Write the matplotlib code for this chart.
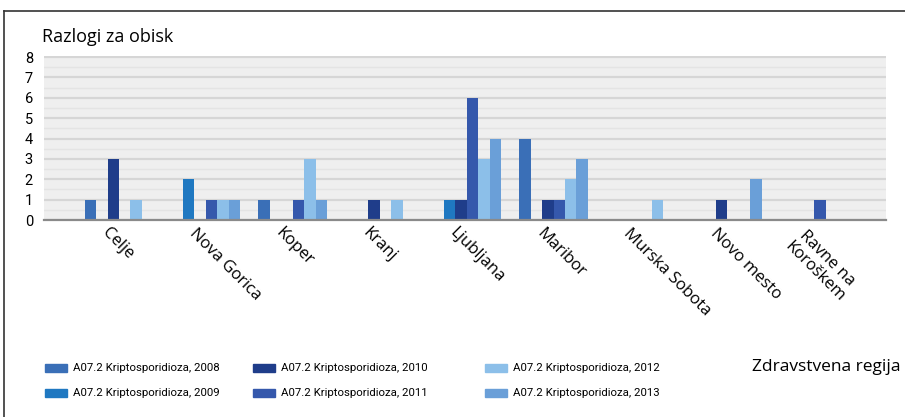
import numpy as np
import matplotlib.pyplot as plt
from matplotlib.lines import Line2D
from matplotlib.patches import Rectangle


# Data
REGIONS = ['Celje', 'Nova Gorica', 'Koper', 'Kranj', 'Ljubljana', 'Maribor',
           'Murska Sobota', 'Novo mesto', 'Ravne na\nKoroškem']
YEARS = ['2008', '2009', '2010', '2011', '2012', '2013']
V2008 = [1, 0, 1, 0, 0, 4, 0, 0, 0]
V2009 = [0, 2, 0, 0, 1, 0, 0, 0, 0]
V2010 = [3, 0, 0, 1, 1, 1, 0, 1, 0]
V2011 = [0, 1, 1, 0, 6, 1, 0, 0, 1]
V2012 = [1, 1, 3, 1, 3, 2, 1, 0, 0]
V2013 = [0, 1, 1, 0, 4, 3, 0, 2, 0]
SERIES = [V2008, V2009, V2010, V2011, V2012, V2013]
COLORS = ['#3a6fb7', '#1f78c1', '#1f3d8a', '#3558ac', '#8cbfe9', '#6a9fd8']

LABEL_FONT = ['Open Sans', 'DejaVu Sans']
LEGEND_FONT = ['Roboto', 'DejaVu Sans']

fig = plt.figure(figsize=(9.05, 4.17), dpi=100)
W, H = 905., 417.

ax = fig.add_axes([44 / W, (H - 220) / H, (886 - 44) / W, (220 - 56) / H])
ax.set_facecolor('#efefef')

x = np.arange(len(REGIONS))
bw = 0.132
bars = []
for i, vals in enumerate(SERIES):
    b = ax.bar(x - 2.5 * bw + i * bw, vals, width=bw, color=COLORS[i],
               zorder=3, label='A07.2 Kriptosporidioza, ' + YEARS[i])
    bars.append(b)

ax.set_xlim(-0.863, 8.826)
ax.set_ylim(0, 8.05)
ax.set_yticks(range(0, 9))
ax.set_yticks(np.arange(0.5, 8, 1), minor=True)
ax.grid(axis='y', which='major', color='#d6d6d6', lw=1.6, zorder=1)
ax.grid(axis='y', which='minor', color='#e4e4e4', lw=1.0, zorder=1)
ax.tick_params(axis='y', which='both', length=0, pad=8, labelsize=10.5)
for lbl in ax.get_yticklabels():
    lbl.set_family(['Roboto', 'DejaVu Sans'])
ax.set_xticks([])
for s in ['top', 'right', 'left']:
    ax.spines[s].set_visible(False)
ax.spines['bottom'].set_color('#8a8a8a')
ax.spines['bottom'].set_linewidth(1.6)
ax.spines['bottom'].set_zorder(4)

# rotated category labels
for xi, name in zip(x, REGIONS):
    ax.text(xi - 0.1, -0.25, name, rotation=-45, rotation_mode='anchor',
            ha='left', va='top', fontsize=12, multialignment='center',
            family=LABEL_FONT, clip_on=False)

fig.text(42 / W, (H - 37) / H, 'Razlogi za obisk', fontsize=13,
         va='center', ha='left', family=LABEL_FONT)
fig.text(900 / W, (H - 367) / H, 'Zdravstvena regija', fontsize=12.5,
         va='center', ha='right', family=LABEL_FONT)

# legend, laid out like the original (2008 2010 2012 / 2009 2011 2013)
col_x = [45, 253, 485]
row_y = [368, 393]
for i, yr in enumerate(YEARS):
    cx = col_x[i // 2]
    cy = row_y[i % 2]
    fig.add_artist(Rectangle((cx / W, (H - cy - 4) / H), 22 / W, 8 / H,
                             color=COLORS[i], transform=fig.transFigure))
    fig.text((cx + 28) / W, (H - cy) / H, 'A07.2 Kriptosporidioza, ' + yr,
             fontsize=8.2, va='center', ha='left', family=LEGEND_FONT)

# outer frame lines
fig.add_artist(Line2D([4 / W, 4 / W], [0, (H - 11) / H], color='#333333', lw=1.2))
fig.add_artist(Line2D([4 / W, 1], [(H - 11) / H, (H - 11) / H], color='#333333', lw=1.2))

fig.savefig('out.png', dpi=100)
